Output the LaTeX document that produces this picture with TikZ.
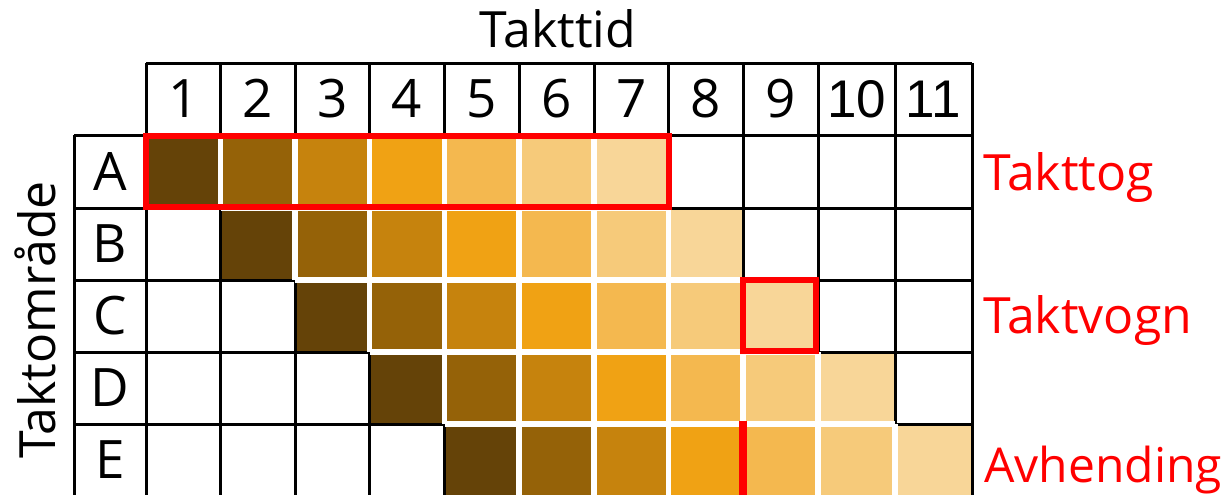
\documentclass[tikz,border=0pt]{standalone}
\usepackage{fontspec}
\setmainfont{Open Sans}
\newfontfamily\arialf{Liberation Sans}
\definecolor{s1}{HTML}{654308}
\definecolor{s2}{HTML}{956208}
\definecolor{s3}{HTML}{C6830D}
\definecolor{s4}{HTML}{F0A214}
\definecolor{s5}{HTML}{F4B84F}
\definecolor{s6}{HTML}{F6CA7A}
\definecolor{s7}{HTML}{F8D698}
\definecolor{redline}{HTML}{FF0000}
\def\XS{{146,220.5,295,369.5,444.5,519,594,668.5,743,818,895,972}}
\def\YS{{63,135,208,280,352,424,496}}
\tikzset{
  txt/.style={inner sep=0pt, font=\fontsize{25}{30}\selectfont},
  celltxt/.style={inner sep=0pt, font=\fontsize{26.5}{30}\selectfont, anchor=base},
  redtxt/.style={txt, text=redline, anchor=base west},
  gridline/.style={line width=1.5pt, black},
  gapline/.style={line width=2.6pt, white},
  redbox/.style={line width=3pt, redline},
}
\begin{document}
\begin{tikzpicture}[x=0.5pt,y=-0.5pt]
\useasboundingbox (0,0) rectangle (1228,494);
\clip (0,0) rectangle (1228,494);
% coloured cells
\foreach \r in {1,...,5}{
  \foreach \k in {1,...,7}{
    \pgfmathtruncatemacro{\c}{\r+\k-1}
    \pgfmathsetmacro{\xl}{\XS[\c-1]}
    \pgfmathsetmacro{\xr}{\XS[\c]}
    \pgfmathsetmacro{\yt}{\YS[\r]}
    \pgfmathsetmacro{\yb}{\YS[\r+1]}
    \fill[s\k] (\xl,\yt) rectangle (\xr,\yb);
  }
}
% black grid
\draw[gridline] (146,63) -- (972,63);
\foreach \j in {1,...,6}{
  \pgfmathsetmacro{\yy}{\YS[\j]}
  \draw[gridline] (74,\yy) -- (972,\yy);
}
\draw[gridline] (74,135) -- (74,500);
\foreach \i in {0,...,11}{
  \pgfmathsetmacro{\xx}{\XS[\i]}
  \draw[gridline] (\xx,63) -- (\xx,500);
}
% white gaps between coloured cells
\foreach \r in {1,...,5}{
  \foreach \k in {1,...,6}{
    \pgfmathtruncatemacro{\c}{\r+\k-1}
    \pgfmathsetmacro{\xr}{\XS[\c]}
    \pgfmathsetmacro{\yt}{\YS[\r]}
    \pgfmathsetmacro{\yb}{\YS[\r+1]}
    \draw[gapline] (\xr,\yt) -- (\xr,\yb);
  }
}
\foreach \r in {1,...,4}{
  \foreach \k in {1,...,6}{
    \pgfmathtruncatemacro{\c}{\r+\k}
    \pgfmathsetmacro{\xl}{\XS[\c-1]}
    \pgfmathsetmacro{\xr}{\XS[\c]}
    \pgfmathsetmacro{\yb}{\YS[\r+1]}
    \draw[gapline] (\xl,\yb) -- (\xr,\yb);
  }
}
% red markings
\draw[redbox] (145.5,135.5) rectangle (668.5,206.5);
\draw[redbox] (742.5,279.5) rectangle (815.5,350.5);
\draw[redline, line width=4pt] (742.5,421) -- (742.5,500);
% texts
\node[txt, anchor=base] (title) at (558,47) {Takttid};
\foreach \i/\t in {1/1,2/2,3/3,4/4,5/5,6/6,7/7,8/8,9/9}{
  \pgfmathsetmacro{\xl}{\XS[\i-1]}
  \pgfmathsetmacro{\xr}{\XS[\i]}
  \node[celltxt] (h\i) at ({(\xl+\xr)/2},117) {\t};
}
\node[celltxt] (h10) at (856.5,117) {\arialf 10};
\node[celltxt] (h11) at (933.5,117) {\arialf 11};
\foreach \r/\l in {1/A,2/B,3/C,4/D,5/E}{
  \pgfmathsetmacro{\yt}{\YS[\r]}
  \pgfmathsetmacro{\yb}{\YS[\r+1]}
  \node[celltxt] (r\l) at (110,{(\yt+\yb)/2+18.5}) {\l};
}
\node[txt, anchor=base, rotate=90] (ylabel) at (55,320) {Taktområde};
\node[redtxt] (takttog) at (983,190) {Takttog};
\node[redtxt] (taktvogn) at (983,333) {Taktvogn};
\node[redtxt, font=\fontsize{24}{28}\selectfont] (avhending) at (984,482) {Avhending};
\end{tikzpicture}
\end{document}
